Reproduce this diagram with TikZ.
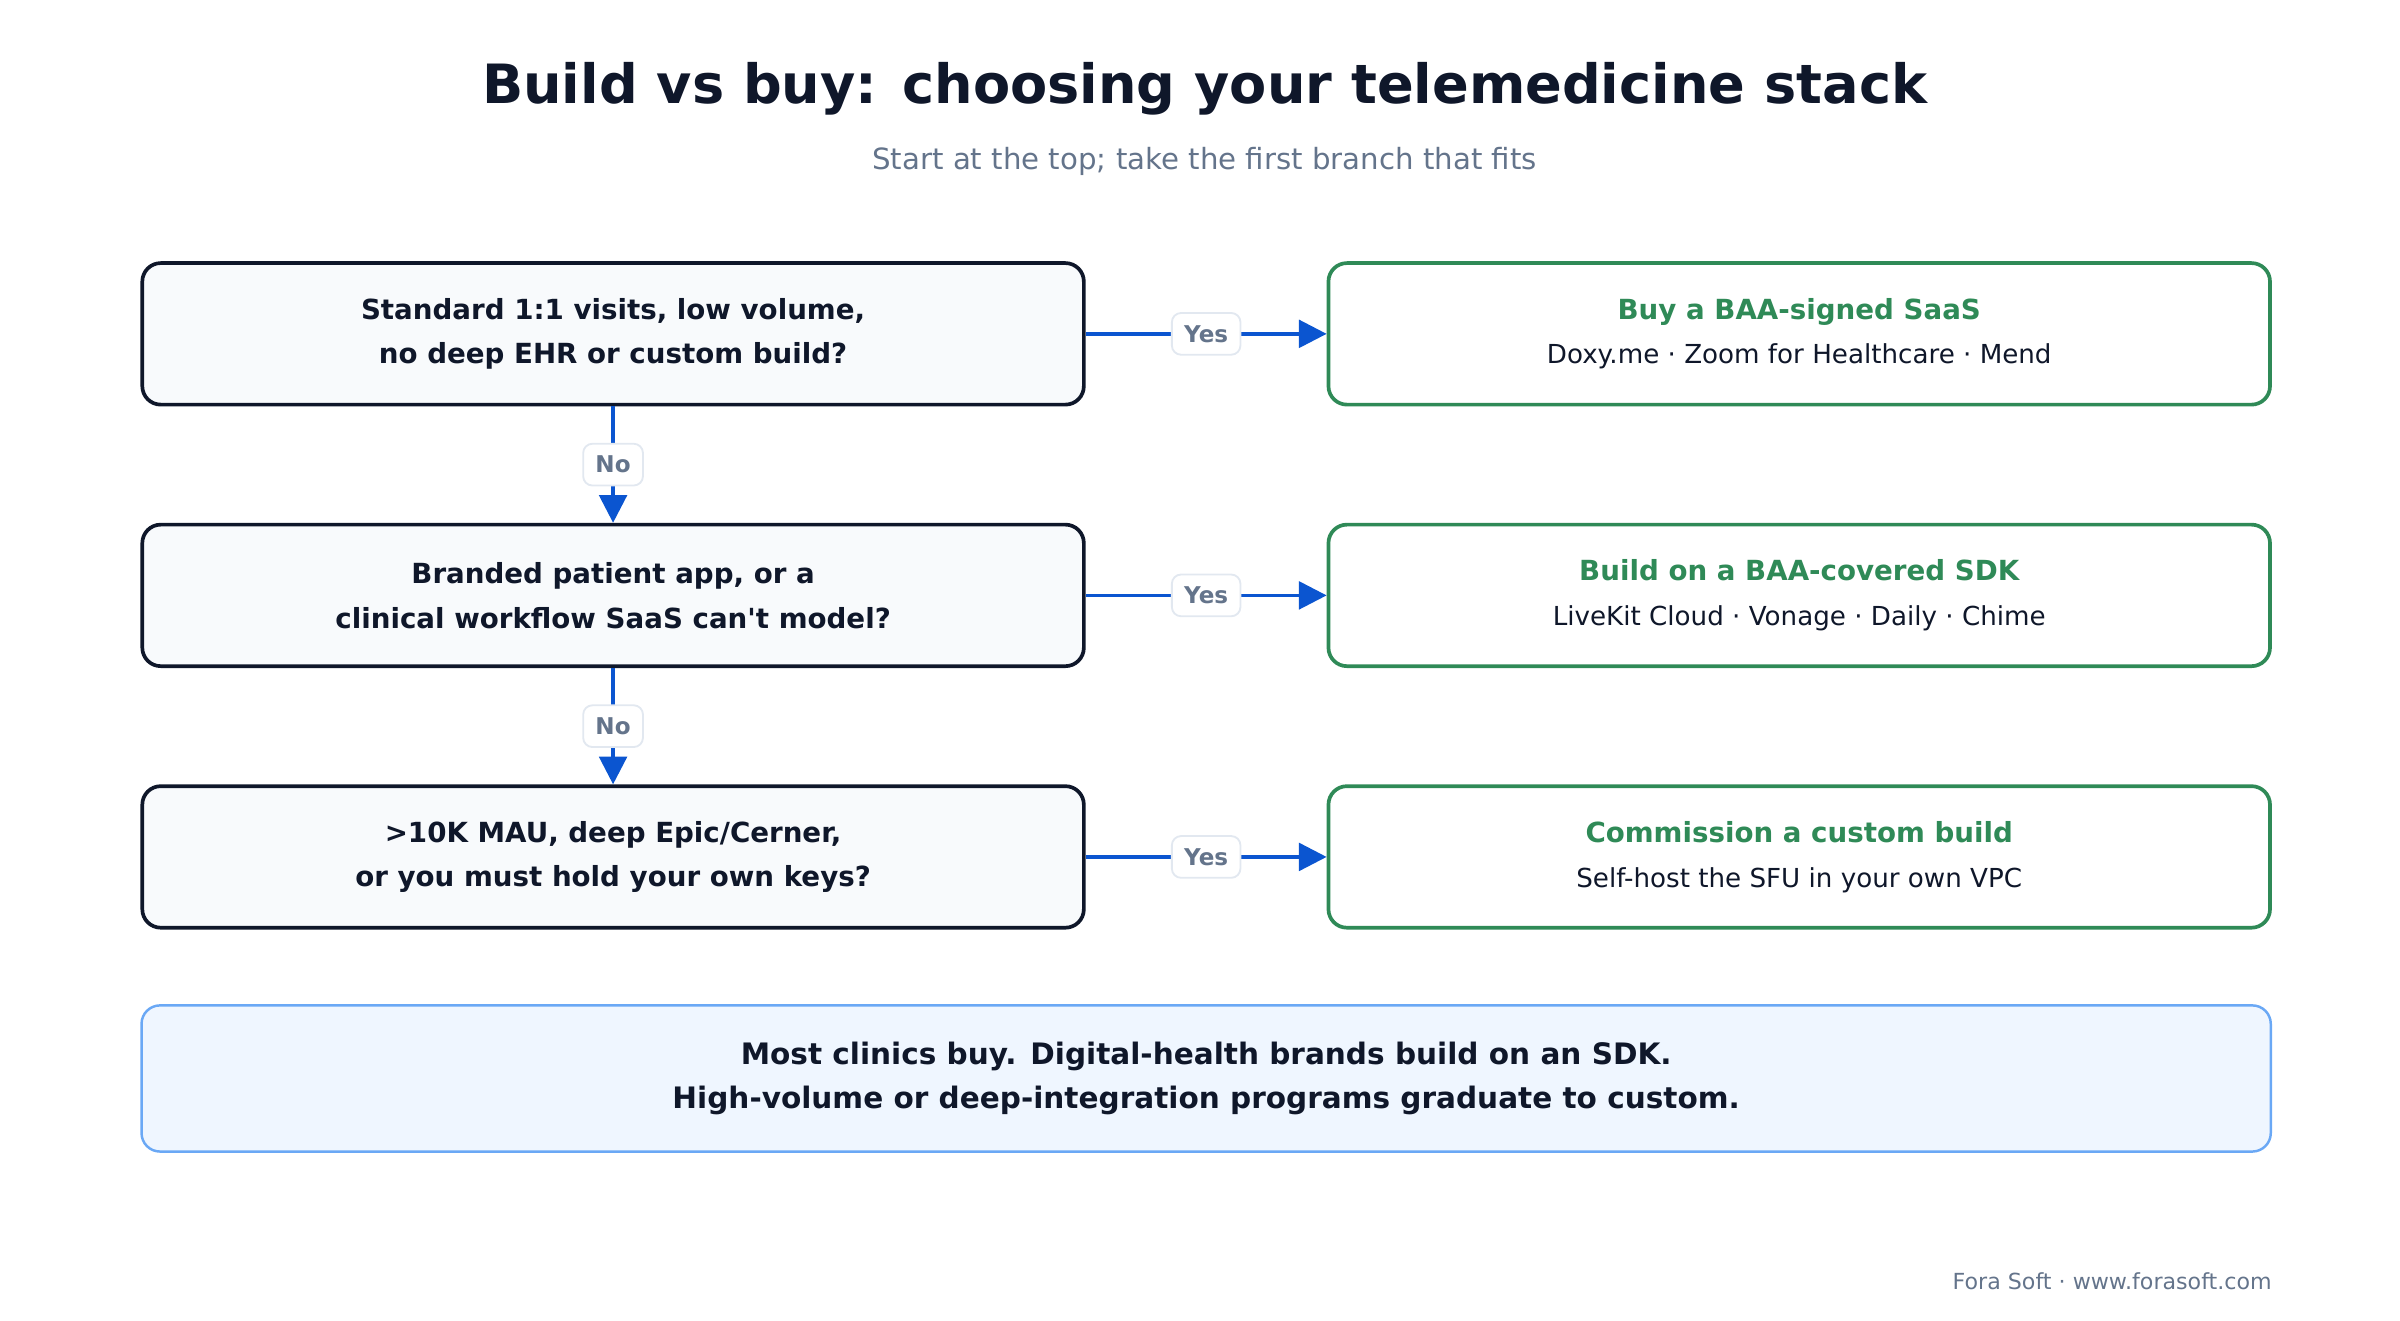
\documentclass[tikz,border=0pt]{standalone}
\usepackage{fontspec}
\setmainfont{DejaVu Sans}
\usetikzlibrary{arrows.meta,positioning}
\definecolor{ink}{HTML}{0F172A}
\definecolor{muted}{HTML}{64748B}
\definecolor{okgreen}{HTML}{2F8A57}
\definecolor{flowblue}{HTML}{0B55D0}
\definecolor{qfill}{HTML}{F8FAFC}
\definecolor{notefill}{HTML}{EFF6FF}
\definecolor{noteline}{HTML}{6AA8F5}
\definecolor{tagline}{HTML}{E2E8F0}
\tikzset{
        question/.style = {draw=ink, fill=qfill, line width=1.2pt, rounded corners=6pt,
            minimum width=306pt, minimum height=46pt, align=center,
            font=\fontsize{9}{14.5}\selectfont\bfseries, text=ink},
        answer/.style = {draw=okgreen, fill=white, line width=1.2pt, rounded corners=6pt,
            minimum width=306pt, minimum height=46pt, align=center,
            font=\fontsize{8.5}{14.5}\selectfont, text=ink},
        tag/.style = {draw=tagline, fill=white, rounded corners=3pt, line width=0.6pt,
            font=\fontsize{7.5}{9}\selectfont\bfseries, text=muted, inner sep=4pt},
        flow/.style = {draw=flowblue, line width=1.1pt, -{Triangle[length=9pt,width=9pt]}},
    }
\begin{document}
\begin{tikzpicture}[x=0.5pt,y=-0.5pt]
\useasboundingbox (0,0) rectangle (1560,858);

% title
\node (title) at (783,58) {\fontsize{17.6}{20}\selectfont\bfseries\color{ink}Build vs buy: choosing your telemedicine stack};
\node (subtitle) at (783,105) {\fontsize{9.5}{12}\selectfont\color{muted}Start at the top; take the first branch that fits};

% questions
\node[question] (q1) at (398.5,217) {Standard 1:1 visits, low volume,\\no deep EHR or custom build?};
\node[question] (q2) at (398.5,387) {Branded patient app, or a\\clinical workflow SaaS can\textquotesingle t model?};
\node[question] (q3) at (398.5,557) {>10K MAU, deep Epic/Cerner,\\or you must hold your own keys?};

% answers
\node[answer] (a1) at (1169.5,217) {{\fontsize{9}{14.5}\selectfont\bfseries\color{okgreen}Buy a BAA-signed SaaS}\\Doxy.me · Zoom for Healthcare · Mend};
\node[answer] (a2) at (1169.5,387) {{\fontsize{9}{14.5}\selectfont\bfseries\color{okgreen}Build on a BAA-covered SDK}\\LiveKit Cloud · Vonage · Daily · Chime};
\node[answer] (a3) at (1169.5,557) {{\fontsize{9}{14.5}\selectfont\bfseries\color{okgreen}Commission a custom build}\\Self-host the SFU in your own VPC};

% connectors
\foreach \n in {1,2,3}{
  \draw[flow] (q\n.east) -- node[tag] {Yes} (a\n.west);
}
\draw[flow] (q1.south) -- node[tag] {No} (q2.north);
\draw[flow] (q2.south) -- node[tag] {No} (q3.north);

% summary
\node[draw=noteline, fill=notefill, line width=0.8pt, rounded corners=6pt,
      minimum width=692pt, minimum height=47.5pt, align=center,
      font=\fontsize{9.6}{14.5}\selectfont\bfseries, text=ink] (summary) at (784,701)
      {Most clinics buy. Digital-health brands build on an SDK.\\High-volume or deep-integration programs graduate to custom.};

% footer
\node[anchor=east, font=\fontsize{7.2}{8}\selectfont, text=muted, inner sep=0pt] (footer) at (1477,833) {Fora Soft · www.forasoft.com};
\end{tikzpicture}
\end{document}
